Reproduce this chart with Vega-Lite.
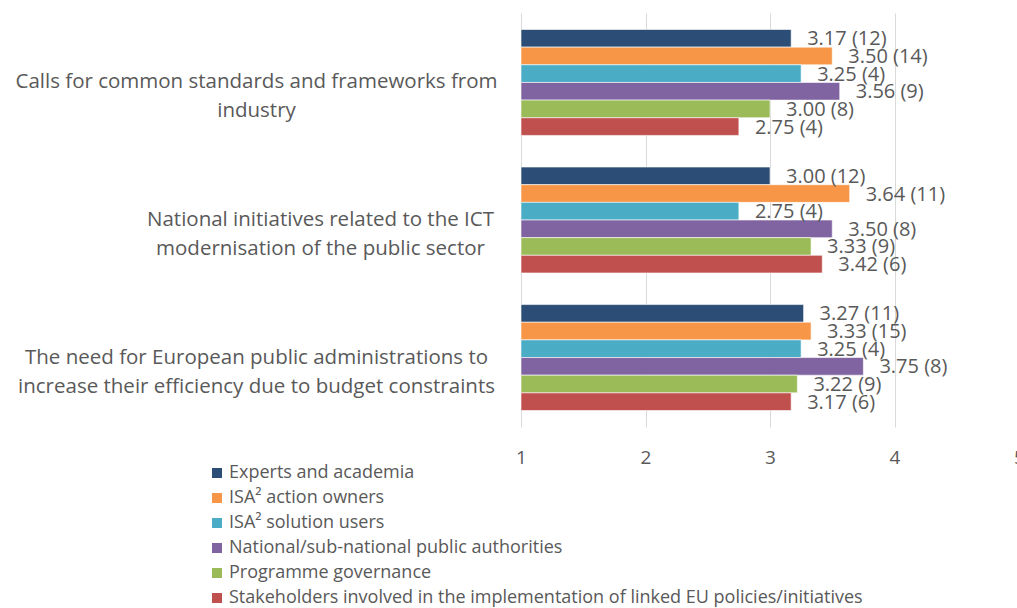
{
  "$schema": "https://vega.github.io/schema/vega-lite/v6.json",
  "autosize": "none",
  "padding": {"left": 521, "top": 13, "right": 0, "bottom": 181},
  "width": 498,
  "height": 414,
  "background": "white",
  "config": {
    "view": {"stroke": null},
    "font": "Open Sans",
    "text": {"font": "Open Sans"}
  },
  "data": {
    "values": [
      {"q": "Calls for common standards and frameworks from industry", "g": "Experts and academia", "mean": 3.17, "n": 12},
      {"q": "Calls for common standards and frameworks from industry", "g": "ISA² action owners", "mean": 3.50, "n": 14},
      {"q": "Calls for common standards and frameworks from industry", "g": "ISA² solution users", "mean": 3.25, "n": 4},
      {"q": "Calls for common standards and frameworks from industry", "g": "National/sub-national public authorities", "mean": 3.56, "n": 9},
      {"q": "Calls for common standards and frameworks from industry", "g": "Programme governance", "mean": 3.00, "n": 8},
      {"q": "Calls for common standards and frameworks from industry", "g": "Stakeholders involved in the implementation of linked EU policies/initiatives", "mean": 2.75, "n": 4},
      {"q": "National initiatives related to the ICT modernisation of the public sector", "g": "Experts and academia", "mean": 3.00, "n": 12},
      {"q": "National initiatives related to the ICT modernisation of the public sector", "g": "ISA² action owners", "mean": 3.64, "n": 11},
      {"q": "National initiatives related to the ICT modernisation of the public sector", "g": "ISA² solution users", "mean": 2.75, "n": 4},
      {"q": "National initiatives related to the ICT modernisation of the public sector", "g": "National/sub-national public authorities", "mean": 3.50, "n": 8},
      {"q": "National initiatives related to the ICT modernisation of the public sector", "g": "Programme governance", "mean": 3.33, "n": 9},
      {"q": "National initiatives related to the ICT modernisation of the public sector", "g": "Stakeholders involved in the implementation of linked EU policies/initiatives", "mean": 3.42, "n": 6},
      {"q": "The need for European public administrations to increase their efficiency due to budget constraints", "g": "Experts and academia", "mean": 3.27, "n": 11},
      {"q": "The need for European public administrations to increase their efficiency due to budget constraints", "g": "ISA² action owners", "mean": 3.33, "n": 15},
      {"q": "The need for European public administrations to increase their efficiency due to budget constraints", "g": "ISA² solution users", "mean": 3.25, "n": 4},
      {"q": "The need for European public administrations to increase their efficiency due to budget constraints", "g": "National/sub-national public authorities", "mean": 3.75, "n": 8},
      {"q": "The need for European public administrations to increase their efficiency due to budget constraints", "g": "Programme governance", "mean": 3.22, "n": 9},
      {"q": "The need for European public administrations to increase their efficiency due to budget constraints", "g": "Stakeholders involved in the implementation of linked EU policies/initiatives", "mean": 3.17, "n": 6}
    ]
  },
  "transform": [
    {"calculate": "format(datum.mean, '.2f') + ' (' + datum.n + ')'", "as": "lab"}
  ],
  "encoding": {
    "y": {
      "field": "q",
      "type": "nominal",
      "sort": null,
      "scale": {"paddingInner": 0.23, "paddingOuter": 0.12},
      "axis": {
        "title": null,
        "domain": false,
        "ticks": false,
        "labelAlign": "center",
        "labelBaseline": "middle",
        "labelPadding": 265,
        "labelFontSize": 20.5,
        "labelColor": "#595959",
        "labelLimit": 600,
        "labelLineHeight": 29,
        "labelExpr": "datum.value == 'Calls for common standards and frameworks from industry' ? ['Calls for common standards and frameworks from', 'industry'] : datum.value == 'National initiatives related to the ICT modernisation of the public sector' ? ['National initiatives related to the ICT', 'modernisation of the public sector'] : ['The need for European public administrations to', 'increase their efficiency due to budget constraints']",
        "encoding": {"labels": {"dx": {"condition": {"test": "indexof(datum.value, 'National') == 0", "value": 64}, "value": 0}}}
      }
    },
    "yOffset": {
      "field": "g",
      "type": "nominal",
      "sort": null,
      "scale": {"paddingInner": 0, "paddingOuter": 0}
    }
  },
  "layer": [
    {
      "mark": {"type": "bar", "stroke": "white", "strokeWidth": 0.6},
      "encoding": {
        "x": {
          "field": "mean",
          "type": "quantitative",
          "scale": {"domain": [1, 5], "nice": false, "zero": false},
          "axis": {
            "title": null,
            "domain": false,
            "ticks": false,
            "values": [1, 2, 3, 4, 5],
            "format": "d",
            "grid": true,
            "gridColor": "#D9D9D9",
            "gridWidth": 1,
            "labelFontSize": 19,
            "labelColor": "#595959",
            "labelPadding": 21,
            "labelFlush": false,
            "labelOverlap": false
          }
        },
        "x2": {"datum": 1},
        "color": {
          "field": "g",
          "type": "nominal",
          "sort": null,
          "scale": {
            "domain": ["Experts and academia", "ISA² action owners", "ISA² solution users", "National/sub-national public authorities", "Programme governance", "Stakeholders involved in the implementation of linked EU policies/initiatives"],
            "range": ["#2C4D75", "#F79646", "#4BACC6", "#8064A2", "#9BBB59", "#C0504D"]
          },
          "legend": {
            "title": null,
            "orient": "none",
            "legendX": -313,
            "legendY": 451,
            "symbolType": "square",
            "symbolSize": 100,
            "symbolStrokeWidth": 0,
            "labelFontSize": 18,
            "labelColor": "#595959",
            "labelLimit": 800,
            "rowPadding": 7,
            "labelOffset": 3
          }
        }
      }
    },
    {
      "mark": {"type": "text", "align": "left", "baseline": "middle", "dx": 16, "dy": 1, "fontSize": 20, "color": "#595959"},
      "encoding": {
        "x": {"field": "mean", "type": "quantitative"},
        "text": {"field": "lab"}
      }
    }
  ]
}
